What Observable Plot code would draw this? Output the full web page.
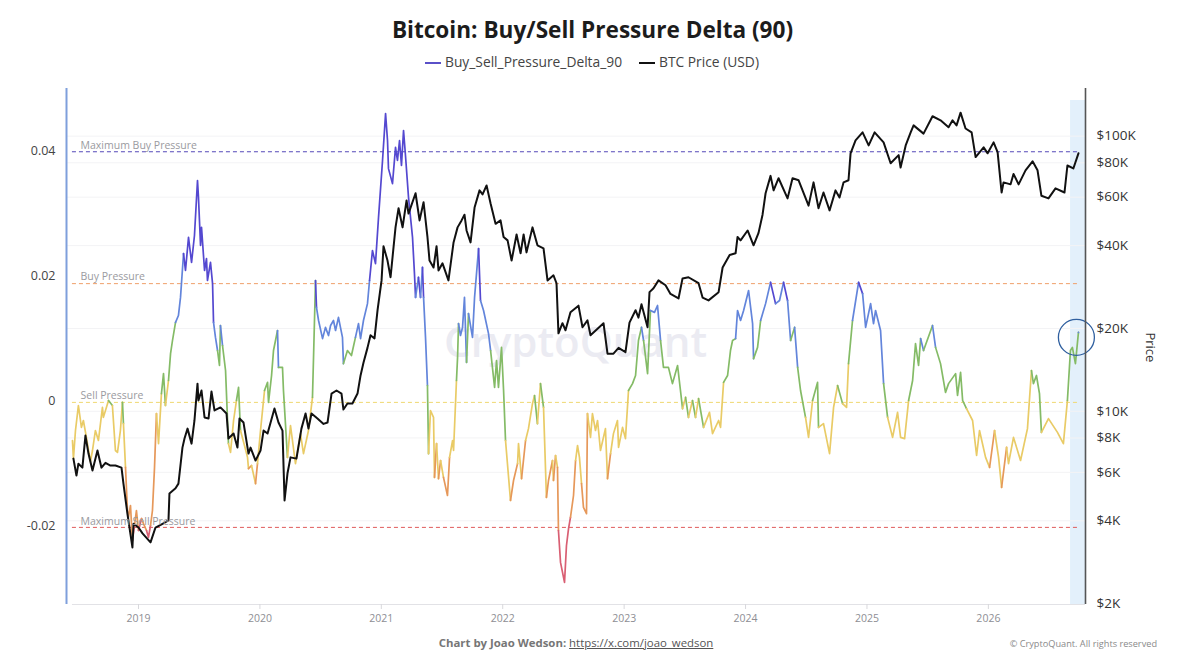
<!DOCTYPE html>
<html><head><meta charset="utf-8">
<script src="https://cdn.jsdelivr.net/npm/d3@7"></script>
<script src="https://cdn.jsdelivr.net/npm/@observablehq/plot@0.6"></script>
<style>
html,body{margin:0;background:#fff;font-family:"Open Sans",sans-serif}
#wrap{width:1180px;height:660px;position:relative;overflow:hidden}
#title{position:absolute;left:5px;right:0;top:14px;text-align:center;font-size:22.6px;font-weight:700;color:#1c1c1c;line-height:32px}
#legend{position:absolute;left:425px;top:52px;font-size:13.8px;color:#444;line-height:20px;white-space:nowrap}
#legend i{display:inline-block;width:16px;height:2px;vertical-align:middle;margin-right:4px}
#legend span{margin-right:17px}
#chart{position:absolute;left:0;top:80px}
#by{position:absolute;left:0;right:28px;top:635px;text-align:center;font-size:11.4px;font-weight:700;color:#767676;line-height:16px}
#by a{font-weight:400;color:#555;text-decoration:underline}
#copy{position:absolute;right:23px;top:636px;font-size:9.2px;color:#8a8a8a;line-height:16px}
#chart text{font-family:"Open Sans",sans-serif}
</style></head><body>
<div id="wrap">
<div id="title">Bitcoin: Buy/Sell Pressure Delta (90)</div>
<div id="legend"><span><i style="background:#5a50c8"></i>Buy_Sell_Pressure_Delta_90</span><span><i style="background:#111"></i>BTC Price (USD)</span></div>
<div id="chart"></div>
<div id="by">Chart by Joao Wedson: <a>https://x.com/joao_wedson</a></div>
<div id="copy">© CryptoQuant. All rights reserved</div>
</div>
<script>
const deltaYears=[2018.456,2018.464,2018.481,2018.505,2018.530,2018.546,2018.571,2018.604,2018.621,2018.645,2018.670,2018.703,2018.711,2018.753,2018.785,2018.810,2018.827,2018.851,2018.868,2018.876,2018.893,2018.909,2018.917,2018.934,2018.950,2018.967,2018.983,2019.000,2019.025,2019.041,2019.066,2019.082,2019.099,2019.115,2019.132,2019.148,2019.165,2019.189,2019.206,2019.222,2019.247,2019.264,2019.280,2019.305,2019.329,2019.346,2019.371,2019.387,2019.412,2019.437,2019.461,2019.486,2019.494,2019.511,2019.519,2019.544,2019.560,2019.568,2019.593,2019.610,2019.618,2019.634,2019.651,2019.667,2019.675,2019.692,2019.717,2019.741,2019.758,2019.783,2019.807,2019.824,2019.840,2019.873,2019.898,2019.906,2019.931,2019.964,2019.980,2020.005,2020.038,2020.063,2020.071,2020.096,2020.112,2020.145,2020.153,2020.186,2020.194,2020.227,2020.252,2020.293,2020.334,2020.359,2020.400,2020.433,2020.441,2020.458,2020.466,2020.483,2020.516,2020.540,2020.565,2020.582,2020.606,2020.623,2020.647,2020.680,2020.688,2020.721,2020.754,2020.787,2020.812,2020.829,2020.853,2020.886,2020.903,2020.927,2020.952,2020.977,2021.010,2021.035,2021.051,2021.059,2021.092,2021.117,2021.133,2021.150,2021.166,2021.183,2021.199,2021.224,2021.257,2021.273,2021.282,2021.306,2021.323,2021.339,2021.348,2021.364,2021.380,2021.389,2021.405,2021.430,2021.438,2021.455,2021.471,2021.488,2021.512,2021.545,2021.562,2021.587,2021.595,2021.619,2021.628,2021.636,2021.652,2021.669,2021.685,2021.702,2021.718,2021.751,2021.768,2021.801,2021.817,2021.842,2021.883,2021.900,2021.933,2021.949,2021.965,2021.990,2022.007,2022.023,2022.064,2022.089,2022.122,2022.130,2022.155,2022.188,2022.212,2022.245,2022.262,2022.286,2022.311,2022.336,2022.360,2022.377,2022.410,2022.418,2022.435,2022.451,2022.459,2022.476,2022.509,2022.525,2022.542,2022.558,2022.583,2022.600,2022.616,2022.632,2022.649,2022.665,2022.690,2022.698,2022.723,2022.739,2022.764,2022.781,2022.805,2022.846,2022.863,2022.888,2022.912,2022.945,2022.954,2022.987,2023.011,2023.036,2023.069,2023.094,2023.118,2023.143,2023.160,2023.193,2023.217,2023.250,2023.275,2023.300,2023.324,2023.365,2023.398,2023.440,2023.464,2023.481,2023.506,2023.530,2023.563,2023.588,2023.613,2023.654,2023.703,2023.728,2023.778,2023.794,2023.819,2023.852,2023.876,2023.893,2023.918,2023.934,2023.959,2023.984,2024.025,2024.058,2024.066,2024.099,2024.124,2024.165,2024.206,2024.247,2024.280,2024.313,2024.346,2024.371,2024.404,2024.429,2024.453,2024.494,2024.519,2024.552,2024.593,2024.601,2024.642,2024.692,2024.725,2024.758,2024.799,2024.832,2024.848,2024.881,2024.931,2024.964,2024.989,2025.030,2025.054,2025.071,2025.112,2025.137,2025.170,2025.211,2025.252,2025.277,2025.310,2025.343,2025.376,2025.400,2025.425,2025.442,2025.466,2025.540,2025.565,2025.606,2025.647,2025.672,2025.730,2025.746,2025.771,2025.788,2025.820,2025.870,2025.903,2025.927,2025.977,2026.010,2026.051,2026.084,2026.109,2026.150,2026.166,2026.207,2026.265,2026.322,2026.355,2026.371,2026.396,2026.421,2026.437,2026.495,2026.569,2026.618,2026.651,2026.676,2026.692,2026.717,2026.742];
const deltaValues=[-.0064,-.0093,-.0048,-.0008,-.0043,-.0032,-.0059,-.0098,-.008,-.0048,-.0064,-.0011,-.0027,0,-.0008,-.008,-.0083,-.0048,-.0003,-.0037,-.0107,-.0176,-.0187,-.0168,-.0224,-.02,-.0176,-.0208,-.0189,-.0197,-.0208,-.0219,-.02,-.0176,-.0107,-.0021,-.0069,.0011,.0043,-.0008,.0032,.0075,.0096,.0125,.0136,.0165,.0235,.0208,.0261,.0221,.0264,.0352,.0325,.0248,.0277,.0208,.0227,.0192,.0221,.0187,.0125,.0101,.008,.0056,.012,.0088,.0048,-.0069,-.0083,-.0032,0,.0021,-.0048,-.0072,-.0091,-.0109,-.0104,-.0133,-.0101,-.0048,.0016,.0029,-.0003,.004,.008,.0112,.0053,.0053,.0016,-.0091,-.004,-.0101,-.0053,-.0085,-.0048,.0005,.0064,.0192,.0149,.0128,.0099,.0117,.0104,.012,.0128,.0112,.0133,.0101,.0059,.008,.0072,.0101,.0123,.0099,.0128,.0155,.0192,.024,.0219,.0293,.0384,.0459,.0416,.0371,.0347,.0405,.0384,.0416,.0376,.0432,.0392,.0325,.0261,.0203,.0165,.0197,.0165,.0213,.0165,.0101,.0024,-.0085,-.0016,-.0027,-.0123,-.0069,-.0125,-.0096,-.0123,-.0152,-.0091,-.0064,-.008,.0032,.0069,.0123,.0104,.0117,.0165,.0061,.0139,.0101,.0165,.0243,.016,.0144,.0107,.008,.0021,.0064,.0021,.0085,.0016,-.0064,-.016,-.0128,-.0101,-.0069,-.0125,-.0064,-.0045,-.0005,.0008,-.0037,.0027,-.0011,-.0155,-.0128,-.0096,-.0128,-.0088,-.0107,-.0208,-.0259,-.0291,-.0232,-.0205,-.0187,-.0152,-.0096,-.0072,-.0091,-.0133,-.0171,-.0181,-.0021,-.0059,-.0021,-.0048,-.0032,-.008,-.0045,-.0125,-.0085,-.0053,-.0032,-.0075,-.0043,-.0061,.0016,.0027,.004,.0096,.0117,.0096,.0043,.0144,.0141,.0152,.0096,.0053,.0053,.0027,.0056,.0016,-.0013,.0005,-.0027,0,-.0027,.0003,-.0043,-.0019,-.0053,-.0032,-.0043,.0029,.004,.008,.0096,.0099,.0144,.0128,.0144,.0176,.0123,.0067,.0085,.0128,.0155,.0189,.0155,.016,.0189,.016,.0096,.0117,.0053,.0016,-.0027,-.0059,0,.0029,-.0043,-.0037,-.0085,-.0011,.0024,-.0005,-.0011,.0059,.0128,.0189,.0171,.0117,.0155,.0123,.0144,.0112,.0027,-.0027,-.0059,-.0019,-.0059,-.0061,0,.0032,.0091,.0056,.0099,.008,.012,.0085,.0059,.0013,.0027,.0043,.0008,.0045,0,-.0013,-.0032,-.0088,-.0048,-.0091,-.0107,-.0048,-.0091,-.0139,-.0075,-.0101,-.0059,-.0096,-.0045,.0048,.0027,.004,.0011,-.0051,-.0029,-.0051,-.0069,0,.008,.0085,.0059,.0109];
const priceYears=[2018.464,2018.489,2018.505,2018.538,2018.563,2018.588,2018.621,2018.662,2018.695,2018.728,2018.769,2018.810,2018.860,2018.876,2018.909,2018.950,2018.959,2019.000,2019.033,2019.099,2019.140,2019.198,2019.247,2019.255,2019.305,2019.329,2019.362,2019.379,2019.404,2019.437,2019.461,2019.486,2019.494,2019.519,2019.544,2019.577,2019.601,2019.626,2019.675,2019.725,2019.741,2019.783,2019.815,2019.832,2019.865,2019.906,2019.923,2019.964,2020.005,2020.030,2020.063,2020.120,2020.153,2020.186,2020.203,2020.227,2020.252,2020.301,2020.342,2020.376,2020.400,2020.425,2020.474,2020.524,2020.557,2020.590,2020.631,2020.672,2020.688,2020.721,2020.762,2020.804,2020.829,2020.853,2020.886,2020.911,2020.944,2020.969,2021.002,2021.018,2021.051,2021.076,2021.117,2021.142,2021.175,2021.208,2021.224,2021.282,2021.315,2021.348,2021.380,2021.397,2021.430,2021.455,2021.471,2021.504,2021.553,2021.595,2021.628,2021.661,2021.685,2021.702,2021.735,2021.768,2021.809,2021.834,2021.867,2021.900,2021.941,2021.982,2022.007,2022.040,2022.073,2022.114,2022.147,2022.172,2022.196,2022.245,2022.286,2022.336,2022.369,2022.418,2022.443,2022.459,2022.492,2022.517,2022.558,2022.624,2022.657,2022.698,2022.723,2022.830,2022.863,2022.912,2022.954,2023.011,2023.044,2023.094,2023.118,2023.143,2023.193,2023.209,2023.242,2023.283,2023.341,2023.382,2023.448,2023.481,2023.530,2023.613,2023.646,2023.695,2023.778,2023.811,2023.869,2023.918,2023.934,2023.959,2024.017,2024.066,2024.107,2024.140,2024.165,2024.206,2024.231,2024.272,2024.346,2024.387,2024.437,2024.519,2024.560,2024.601,2024.642,2024.692,2024.741,2024.774,2024.807,2024.848,2024.865,2024.906,2024.964,2025.014,2025.063,2025.137,2025.195,2025.261,2025.277,2025.319,2025.360,2025.384,2025.466,2025.540,2025.606,2025.672,2025.705,2025.738,2025.771,2025.812,2025.862,2025.895,2025.961,2025.994,2026.043,2026.076,2026.109,2026.125,2026.183,2026.207,2026.249,2026.306,2026.364,2026.405,2026.437,2026.495,2026.553,2026.627,2026.651,2026.700,2026.742];
const priceValues=[6730,5840,6450,6240,8160,7020,6090,7200,6240,6500,6350,6350,6240,5460,4240,3200,3900,3780,3600,3340,3780,3900,4010,5030,5250,5460,7380,7960,8650,7630,9260,12600,10940,11900,9500,9420,11800,10070,10330,9820,7960,8300,7380,9420,9100,7020,7380,6620,7200,8510,8300,10240,9100,8510,4740,5940,6800,6730,8650,9820,8650,9820,9420,9000,9100,11600,11900,11600,10150,10670,10670,11600,13500,15000,17000,18900,18400,23300,29900,39800,35300,30700,46600,54700,46600,58400,52300,62000,49400,57500,43000,35300,33300,39800,32500,34500,29900,41100,46600,49400,51800,45400,41100,55000,63500,61400,66200,56900,48000,49400,43000,41800,35300,43900,37500,43900,37800,46600,40100,39100,29900,31200,29200,19200,20900,19700,22900,24200,20200,21400,18900,20900,16200,16200,17000,16400,21000,23300,21900,24500,20200,27100,28000,29900,28700,26700,25700,30400,30700,29200,25900,25300,27100,33300,37000,37500,43000,41800,45400,40100,44500,51800,62000,71700,63500,70300,59400,70300,69100,55900,67900,54700,62400,53700,63500,59800,67900,69100,86600,96500,103200,92500,103200,94900,79700,85300,76900,92500,103200,109400,102100,118100,114100,107700,114100,109400,121700,106600,103200,83900,91000,86600,94900,87400,62400,67900,66800,72900,66800,75100,81000,75100,60700,59400,64600,62400,78200,76300,86600];
const deltaThresholds=[-.0203,-.0104,-.0003,.0098,.0187];
const deltaColors=["#d95f73","#e6985a","#e9cb66","#84bb66","#6385db","#5448d0"];
const pressureLevels=[.0398,.0187,-.0003,-.0203];
const pressureColors=["#5548b8","#ef9f6a","#efd870","#e05a5a"];
const pressureNames=["Maximum Buy Pressure","Buy Pressure","Sell Pressure","Maximum Sell Pressure"];
const pressureLabelY=[.0408,.0198,.0008,-.0194];
const deltaTicks=[.04,.02,0,-.02];
const deltaTickLabels=["0.04","0.02","0","-0.02"];
const priceTicks=[100000,80000,60000,40000,20000,10000,8000,6000,4000,2000];
const priceTickLabels=["$100K","$80K","$60K","$40K","$20K","$10K","$8K","$6K","$4K","$2K"];
const yearTicks=[2019,2020,2021,2022,2023,2024,2025,2026];

const yDomain=[-.03264,.04992], xDomain=[2018.407,2026.80];
const priceToDelta=d3.scaleLog().domain([2000,100000]).range([-.0325,.0423]);
const delta=deltaYears.map((x,i)=>({x,y:deltaValues[i]}));
const price=priceYears.map((x,i)=>({x,y:priceToDelta(priceValues[i])}));
const levels=pressureLevels.map((y,i)=>({y,n:pressureNames[i],ly:pressureLabelY[i]}));
const priceY=priceTicks.map(p=>priceToDelta(p));

const chart=Plot.plot({
  width:1180,height:550,marginLeft:66,marginRight:95,marginTop:8,marginBottom:26,
  style:{background:"transparent",fontFamily:"Open Sans"},
  x:{type:"linear",domain:xDomain},
  y:{domain:yDomain},
  color:{type:"threshold",domain:deltaThresholds,range:deltaColors},
  marks:[
    Plot.rect([{x1:2026.677,x2:xDomain[1],y1:yDomain[0],y2:.048}],{x1:"x1",x2:"x2",y1:"y1",y2:"y2",fill:"#e3f0fb"}),
    Plot.ruleY(priceY.slice(0,-1),{stroke:"#f3f3f5",strokeWidth:1}),
    Plot.text(["CryptoQuant"],{x:()=>2022.6,y:()=>.0091,text:d=>d,fontSize:42,fontWeight:600,fill:"#ebebf2"}),
    ...levels.map((d,i)=>Plot.ruleY([d.y],{x1:2018.456,x2:2026.742,stroke:pressureColors[i],strokeDasharray:"4 3",strokeWidth:1})),
    Plot.lineY(delta,{x:"x",y:"y",stroke:"y",z:null,strokeWidth:1.7,curve:"linear"}),
    Plot.lineY(price,{x:"x",y:"y",stroke:"#111",strokeWidth:2,curve:"linear"}),
    Plot.text(levels,{x:()=>2018.523,y:"ly",text:"n",textAnchor:"start",fontSize:10.5,fill:"#9a9aa0"}),
    Plot.dot([{x:2026.725,y:.0101}],{x:"x",y:"y",r:18,stroke:"#2f5f9f",strokeWidth:1.3,fill:"none"}),
    Plot.ruleX([xDomain[0]],{stroke:"#7f9fdc",strokeWidth:2}),
    Plot.ruleY([yDomain[0]],{x1:2018.456,x2:xDomain[1],stroke:"#e2e2e6",strokeWidth:1.2}),
    Plot.ruleX([xDomain[1]],{stroke:"#555",strokeWidth:1.6}),
    Plot.axisY(deltaTicks,{anchor:"left",tickSize:0,tickPadding:11,label:null,fontSize:12.5,color:"#444",tickFormat:(d,i)=>deltaTickLabels[i]}),
    Plot.axisY(priceY,{anchor:"right",tickSize:0,tickPadding:11,label:null,fontSize:13.5,color:"#333",tickFormat:(d,i)=>priceTickLabels[i]}),
    Plot.axisX(yearTicks,{tickSize:5,stroke:"#d8d8dc",tickPadding:5,label:null,fontSize:10.5,color:"#8e8e94",tickFormat:d=>String(d)}),
    Plot.text(["Price"],{x:()=>xDomain[1],y:()=>.0085,text:d=>d,dx:65,rotate:90,fontSize:13,fill:"#333"})
  ]
});
document.getElementById("chart").appendChild(chart);
</script>
</body></html>
